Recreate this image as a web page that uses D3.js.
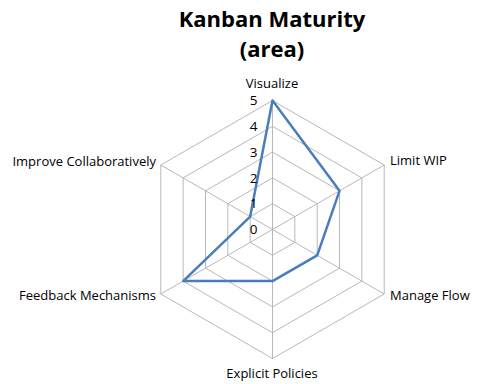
<!DOCTYPE html>
<html><head><meta charset="utf-8">
<script src="https://cdn.jsdelivr.net/npm/d3@7"></script>
<style>html,body{margin:0;padding:0;background:#fff;}svg{display:block;}</style>
</head><body>
<svg id="chart" width="481" height="384"></svg>
<script>
const categories = ["Visualize","Limit WIP","Manage Flow","Explicit Policies","Feedback Mechanisms","Improve Collaboratively"];
const values = [5,3,2,2,4,1];
const tickValues = [0,1,2,3,4,5];
const titleLines = ["Kanban Maturity","(area)"];

const svg = d3.select("#chart");
const cx = 272.5, cy = 229.5, R = 129;
const font = "Open Sans, Liberation Sans, sans-serif";
const r = d3.scaleLinear().domain([0,5]).range([0,R]);
const ang = d3.scaleLinear().domain([0,categories.length]).range([0,2*Math.PI]);
const pt = (i,v) => [cx + r(v)*Math.sin(ang(i)), cy - r(v)*Math.cos(ang(i))];

const g = svg.append("g");
// rings
tickValues.filter(t=>t>0).forEach(t=>{
  g.append("polygon")
   .attr("points", categories.map((c,i)=>pt(i,t).join(",")).join(" "))
   .attr("fill","none").attr("stroke","#b8b8b8").attr("stroke-width",1);
});
// spokes
categories.forEach((c,i)=>{
  const p = pt(i,5);
  g.append("line").attr("x1",cx).attr("y1",cy).attr("x2",p[0]).attr("y2",p[1])
   .attr("stroke","#b8b8b8").attr("stroke-width",1);
});
// series
const line = d3.lineRadial().angle((d,i)=>ang(i)).radius(d=>r(d)).curve(d3.curveLinearClosed);
g.append("path").attr("transform",`translate(${cx},${cy})`)
 .attr("d", line(values)).attr("fill","none").attr("stroke","#4a7ebb").attr("stroke-width",2.5)
 .attr("stroke-linejoin","round");
// tick labels
g.selectAll("text.tick").data(tickValues).enter().append("text")
 .attr("x", cx-15).attr("y", d=>cy - r(d)).attr("dy","0.35em")
 .attr("text-anchor","end").attr("font-family",font).attr("font-size",13.5).attr("fill","#000")
 .text(d=>d);
// category labels
const labelPos = [
  {x:272, y:88, a:"middle"},
  {x:390, y:165, a:"start"},
  {x:390, y:300, a:"start"},
  {x:272, y:378, a:"middle"},
  {x:156, y:300, a:"end"},
  {x:156, y:166, a:"end"}
];
g.selectAll("text.cat").data(categories).enter().append("text")
 .attr("x",(d,i)=>labelPos[i].x).attr("y",(d,i)=>labelPos[i].y)
 .attr("text-anchor",(d,i)=>labelPos[i].a)
 .attr("font-family",font).attr("font-size",13).attr("fill","#000").text(d=>d);
// title
svg.selectAll("text.title").data(titleLines).enter().append("text")
 .attr("x",272).attr("y",(d,i)=>27+i*30).attr("text-anchor","middle")
 .attr("font-family",font).attr("font-weight","bold").attr("font-size",22).attr("fill","#000")
 .text(d=>d);
</script>
</body></html>
